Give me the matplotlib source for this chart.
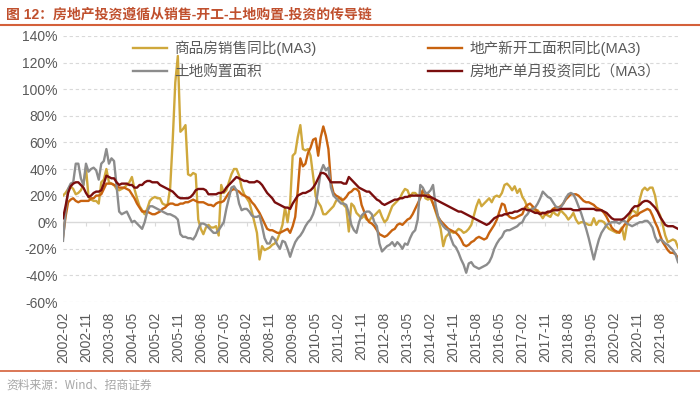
import matplotlib
matplotlib.use('Agg')
import matplotlib.pyplot as plt
from matplotlib.lines import Line2D
import pandas as pd

plt.rcParams['font.family'] = ['Liberation Sans', 'Noto Sans CJK SC']

# monthly series, 2002-02 .. 2022-03 (%)
start_month = '2002-02'
sales = [20, 22, 25, 27, 25, 21, 22, 24, 28, 41, 19, 17,
         16, 16, 14, 30, 32, 40, 30, 29, 28, 25, 24, 25,
         26, 28, 30, 34, 25, 18, 12, 9, 6, 10, 16, 18,
         19, 18, 18, 14, 13, 13, 26, 62, 105, 125, 68, 70,
         73, 36, 35, 37, 36, 2, -5, -9, -4, -2, -4, -4,
         -3, -10, 28, 22, 24, 30, 36, 40, 40, 35, 26, 21,
         18, 15, 8, 0, -8, -28, -18, -21, -20, -19, -17, -16,
         -13, -8, -2, 11, 0, 14, 50, 52, 64, 73, 55, 54,
         55, 50, 35, 20, 15, 12, 6, 6, 8, 10, 12, 16,
         18, 18, 13, 11, -7, 14, 12, 7, 5, 3, 5, 2,
         1, 4, 5, 7, 9, 4, 0, 2, 7, 12, 14, 16,
         18, 22, 25, 24, 19, 22, 22, 20, 19, 24, 18, 17,
         18, 14, 8, 2, -5, -18, -11, -9, -7, -8, -7, -5,
         -6, -8, -7, -5, -2, 5, 12, 17, 12, 14, 16, 18,
         15, 19, 20, 19, 22, 28, 29, 27, 24, 27, 22, 25,
         19, 16, 11, 9, 11, 8, 9, 6, 3, 6, 5, 4,
         8, 6, 5, 9, 7, 5, 2, 4, 7, 2, -1, 0,
         0, -1, -2, -2, 3, -2, 1, 1, 0, -3, -5, -6,
         -7, -8, -7, -4, -13, -2, 5, 9, 8, 6, 17, 24,
         26, 24, 26, 26, 20, 9, 5, -2, -10, -15, -14, -13,
         -14, -19]
new_starts = [-11, 4, 15, 17, 18, 16, 15, 16, 16, 16, 16, 18,
              18, 20, 20, 21, 25, 29, 29, 29, 28, 27, 26, 26,
              26, 25, 24, 21, 18, 14, 11, 8, 8, 8, 7, 6,
              6, 7, 8, 10, 11, 13, 14, 14, 13, 13, 14, 14,
              15, 15, 16, 17, 16, 15, 15, 15, 14, 13, 13, 12,
              14, 15, 15, 16, 19, 22, 24, 25, 24, 23, 21, 20,
              19, 18, 15, 13, 10, 7, 3, -1, -5, -6, -6, -7,
              -8, -8, -7, -6, -5, -8, -3, 4, 24, 48, 42, 44,
              52, 56, 62, 63, 50, 64, 72, 65, 55, 30, 22, 20,
              19, 17, 17, 19, 22, 23, 25, 25, 23, 13, 8, 3,
              0, -1, -3, -6, -9, -10, -11, -10, -8, -6, -5, -2,
              -1, -2, 0, 2, 3, 6, 10, 14, 18, 24, 22, 21,
              19, 14, 9, 4, 1, -1, -3, -5, -6, -7, -8, -10,
              -13, -17, -18, -17, -15, -14, -12, -11, -12, -13, -12, -8,
              -5, -2, 2, 8, 14, 13, 6, 4, 3, 3, 4, 5,
              6, 11, 13, 14, 12, 10, 8, 7, 7, 6, 7, 8,
              10, 11, 11, 12, 14, 17, 19, 21, 21, 21, 20, 18,
              16, 15, 15, 14, 13, 11, 10, 9, 7, 4, 0, -4,
              -6, -7, -8, -5, -2, 0, 2, 4, 5, 5, 7, 8,
              9, 10, 9, 5, 0, -4, -10, -15, -18, -21, -23, -23,
              -24, -27]
land = [-14, 8, 25, 29, 30, 44, 44, 33, 28, 44, 38, 40,
        41, 39, 32, 44, 46, 55, 44, 48, 46, 27, 8, 6,
        7, 8, 4, 0, 1, -1, -3, -5, 0, 8, 12, 12,
        11, 10, 9, 8, 7, 6, 6, 5, 4, 2, -9, -11,
        -11, -12, -12, -13, -10, -5, -1, -1, -2, -4, -6, -8,
        -8, -6, -3, 0, 10, 18, 26, 27, 24, 14, 9, 10,
        10, 8, 5, 4, 4, 5, -3, -12, -16, -16, -11, -13,
        -17, -20, -14, -15, -20, -26, -20, -15, -12, -10, -7, -3,
        0, 2, 6, 12, 25, 38, 43, 39, 41, 26, 20, 18,
        16, 14, 14, 13, 7, -2, -6, -8, 0, 5, 7, 8,
        8, 6, 0, -3, -16, -22, -20, -18, -17, -15, -18, -15,
        -17, -20, -16, -17, -12, -8, -6, 2, 28, 26, 22, 22,
        24, 28, 13, 4, 0, -3, -5, -6, -12, -17, -19, -23,
        -28, -32, -38, -31, -30, -33, -34, -35, -34, -33, -32, -30,
        -26, -20, -16, -13, -11, -7, -6, -6, -5, -4, -3, -1,
        0, 4, 6, 9, 10, 11, 14, 18, 23, 21, 19, 18,
        15, 12, 11, 11, 14, 18, 21, 22, 21, 17, 12, 7,
        1, -5, -12, -20, -28, -20, -13, -8, -5, -2, -1, 0,
        0, 0, -1, 1, 1, -1, -2, -3, -2, -1, 0, 0,
        1, 1, -1, -4, -11, -15, -13, -14, -16, -17, -19, -21,
        -24, -30]
investment = [3, 12, 22, 27, 29, 30, 30, 28, 26, 22, 19, 20,
              22, 23, 23, 24, 29, 35, 34, 33, 33, 30, 28, 29,
              29, 29, 28, 28, 26, 26, 28, 28, 30, 31, 31, 30,
              30, 30, 28, 27, 26, 25, 24, 23, 21, 19, 18, 18,
              18, 18, 19, 21, 24, 25, 25, 25, 24, 21, 21, 21,
              21, 22, 22, 23, 26, 28, 30, 32, 34, 33, 32, 31,
              31, 30, 30, 30, 31, 30, 28, 25, 22, 20, 18, 15,
              14, 13, 12, 11, 11, 10, 14, 17, 20, 21, 22, 22,
              23, 24, 26, 29, 33, 37, 37, 36, 33, 30, 30, 30,
              30, 30, 29, 29, 34, 32, 30, 28, 26, 25, 24, 23,
              23, 21, 19, 17, 16, 14, 13, 14, 15, 16, 17, 17,
              18, 18, 19, 19, 20, 20, 20, 20, 20, 20, 20, 19,
              19, 18, 17, 16, 15, 14, 13, 12, 11, 10, 9, 8,
              8, 7, 6, 5, 4, 3, 2, 1, 0, -1, -2, -1,
              1, 3, 4, 5, 5, 6, 6, 7, 7, 8, 8, 9,
              10, 10, 9, 9, 8, 7, 7, 6, 7, 7, 8, 8,
              9, 9, 9, 10, 10, 10, 10, 10, 9, 9, 9, 10,
              10, 10, 10, 10, 10, 9, 9, 9, 8, 7, 5, 3,
              2, 2, 2, 2, 3, 5, 7, 10, 12, 12, 13, 15,
              16, 16, 15, 13, 11, 8, 4, 1, -2, -3, -3, -3,
              -4, -5]

labels = ['商品房销售同比(MA3)', '地产新开工面积同比(MA3)', '土地购置面积', '房地产单月投资同比（MA3）']
colors = ['#CFA83C', '#C8630F', '#8C8C8C', '#7A0E0E']
yticks = list(range(-60, 141, 20))

months = pd.date_range(start_month, periods=len(sales), freq='MS')
x = list(range(len(months)))
tick_idx = x[::9]
tick_lab = [months[i].strftime('%Y-%m') for i in tick_idx]

fig = plt.figure(figsize=(7, 3.95), dpi=100)
ax = fig.add_axes([0.09, 0.2354, 0.8786, 0.6735])

# dashed grid, solid zero line
for v in yticks:
    if v == 0:
        continue
    ax.axhline(v, color='#D9D9D9', lw=0.8, ls=(0, (3, 2.5)), zorder=0)
ax.axhline(0, color='#D9D9D9', lw=1.0, zorder=1)

h_sales, = ax.plot(x, sales, color=colors[0], lw=1.7, label=labels[0], zorder=2)
h_new, = ax.plot(x, new_starts, color=colors[1], lw=1.7, label=labels[1], zorder=3)
h_land, = ax.plot(x, land, color=colors[2], lw=1.7, label=labels[2], zorder=4)
h_inv, = ax.plot(x, investment, color=colors[3], lw=1.7, label=labels[3], zorder=5)

ax.set_xlim(0, len(x) - 1)
ax.set_ylim(-60, 140)
ax.set_yticks(yticks)
ax.set_yticklabels([f'{v}%' for v in yticks])
ax.tick_params(axis='y', length=0, labelsize=10, labelcolor='#595959', pad=4)

ax.set_xticks(tick_idx)
ax.set_xticklabels(tick_lab, rotation=90)
ax.tick_params(axis='x', length=0, labelsize=10, labelcolor='#595959', pad=7)
for s in ax.spines.values():
    s.set_visible(False)

# tick marks sit on the 0% line
sec = ax.secondary_xaxis(0.3)
sec.set_xticks(tick_idx)
sec.set_xticklabels([])
sec.tick_params(axis='x', length=3, color='#D9D9D9', direction='out')
sec.spines['bottom'].set_visible(False)

leg = ax.legend([h_sales, h_land, h_new, h_inv],
                [labels[0], labels[2], labels[1], labels[3]],
                ncol=2, loc='upper left', bbox_to_anchor=(0.19, 0.898),
                bbox_transform=fig.transFigure, frameon=False, fontsize=10.5,
                handlelength=2.3, handletextpad=0.5, columnspacing=7.7,
                labelspacing=0.62, borderpad=0, borderaxespad=0)
for t in leg.get_texts():
    t.set_color('#595959')

fig.text(0.009, 0.962, '图 12：房地产投资遵循从销售-开工-土地购置-投资的传导链',
         fontsize=10, fontweight='bold', color='#C0502E', va='center',
         family=['Liberation Sans', 'Noto Sans CJK SC'])
fig.add_artist(Line2D([0.0, 1.0], [0.937, 0.937], color='#D4603A', lw=1.5))
fig.add_artist(Line2D([0.0, 1.0], [0.061, 0.061], color='#D4603A', lw=1.2))
fig.text(0.009, 0.025, '资料来源：Wind、招商证券', fontsize=8.5, color='#A6A6A6',
         va='center', family=['Noto Sans CJK SC', 'DejaVu Sans'])

fig.savefig('out.png', dpi=100)
